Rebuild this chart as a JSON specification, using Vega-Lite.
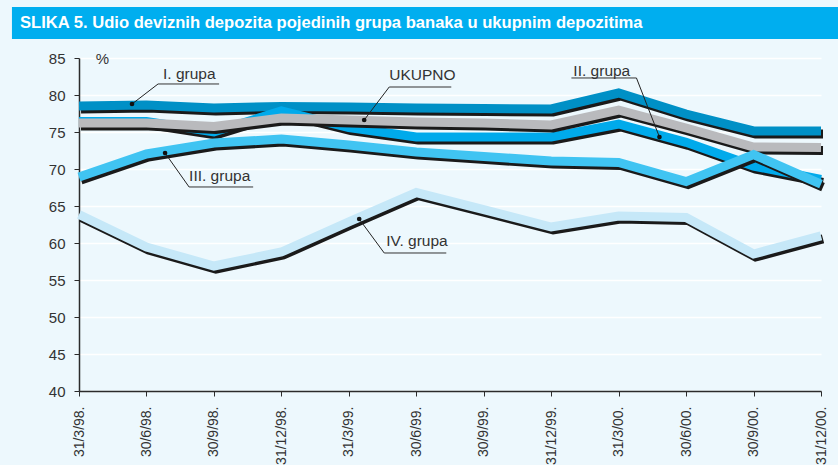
{
  "$schema": "https://vega.github.io/schema/vega-lite/v6.json",
  "background": "#edf8fd",
  "padding": {"left": 11, "top": 7, "right": 0, "bottom": 0},
  "width": 742,
  "height": 333,
  "config": {
    "view": {"stroke": null, "fill": "#edf8fd"},
    "font": "Liberation Sans"
  },
  "datasets": {
    "serije": [
      {"grupa": "I. grupa", "t": 0, "v": 78.5},
      {"grupa": "I. grupa", "t": 1, "v": 78.65},
      {"grupa": "I. grupa", "t": 2, "v": 78.24},
      {"grupa": "I. grupa", "t": 3, "v": 78.45},
      {"grupa": "I. grupa", "t": 4, "v": 78.38},
      {"grupa": "I. grupa", "t": 5, "v": 78.24},
      {"grupa": "I. grupa", "t": 6, "v": 78.18},
      {"grupa": "I. grupa", "t": 7, "v": 78.11},
      {"grupa": "I. grupa", "t": 8, "v": 80.27},
      {"grupa": "I. grupa", "t": 9, "v": 77.43},
      {"grupa": "I. grupa", "t": 10, "v": 75.14},
      {"grupa": "I. grupa", "t": 11, "v": 75.14},
      {"grupa": "II. grupa", "t": 0, "v": 76.42},
      {"grupa": "II. grupa", "t": 1, "v": 76.42},
      {"grupa": "II. grupa", "t": 2, "v": 75.0},
      {"grupa": "II. grupa", "t": 3, "v": 77.84},
      {"grupa": "II. grupa", "t": 4, "v": 75.6},
      {"grupa": "II. grupa", "t": 5, "v": 74.32},
      {"grupa": "II. grupa", "t": 6, "v": 74.32},
      {"grupa": "II. grupa", "t": 7, "v": 74.32},
      {"grupa": "II. grupa", "t": 8, "v": 76.08},
      {"grupa": "II. grupa", "t": 9, "v": 73.6},
      {"grupa": "II. grupa", "t": 10, "v": 70.4},
      {"grupa": "II. grupa", "t": 11, "v": 68.6},
      {"grupa": "UKUPNO", "t": 0, "v": 76.22},
      {"grupa": "UKUPNO", "t": 1, "v": 76.22},
      {"grupa": "UKUPNO", "t": 2, "v": 75.74},
      {"grupa": "UKUPNO", "t": 3, "v": 76.89},
      {"grupa": "UKUPNO", "t": 4, "v": 76.62},
      {"grupa": "UKUPNO", "t": 5, "v": 76.35},
      {"grupa": "UKUPNO", "t": 6, "v": 76.22},
      {"grupa": "UKUPNO", "t": 7, "v": 75.95},
      {"grupa": "UKUPNO", "t": 8, "v": 77.97},
      {"grupa": "UKUPNO", "t": 9, "v": 75.54},
      {"grupa": "UKUPNO", "t": 10, "v": 72.97},
      {"grupa": "UKUPNO", "t": 11, "v": 72.91},
      {"grupa": "III. grupa", "t": 0, "v": 68.92},
      {"grupa": "III. grupa", "t": 1, "v": 72.03},
      {"grupa": "III. grupa", "t": 2, "v": 73.51},
      {"grupa": "III. grupa", "t": 3, "v": 74.05},
      {"grupa": "III. grupa", "t": 4, "v": 73.24},
      {"grupa": "III. grupa", "t": 5, "v": 72.3},
      {"grupa": "III. grupa", "t": 6, "v": 71.69},
      {"grupa": "III. grupa", "t": 7, "v": 71.08},
      {"grupa": "III. grupa", "t": 8, "v": 70.88},
      {"grupa": "III. grupa", "t": 9, "v": 68.3},
      {"grupa": "III. grupa", "t": 10, "v": 71.95},
      {"grupa": "III. grupa", "t": 11, "v": 67.95},
      {"grupa": "IV. grupa", "t": 0, "v": 63.85},
      {"grupa": "IV. grupa", "t": 1, "v": 59.46},
      {"grupa": "IV. grupa", "t": 2, "v": 56.89},
      {"grupa": "IV. grupa", "t": 3, "v": 58.78},
      {"grupa": "IV. grupa", "t": 4, "v": 62.84},
      {"grupa": "IV. grupa", "t": 5, "v": 66.82},
      {"grupa": "IV. grupa", "t": 6, "v": 64.5},
      {"grupa": "IV. grupa", "t": 7, "v": 62.16},
      {"grupa": "IV. grupa", "t": 8, "v": 63.65},
      {"grupa": "IV. grupa", "t": 9, "v": 63.45},
      {"grupa": "IV. grupa", "t": 10, "v": 58.51},
      {"grupa": "IV. grupa", "t": 11, "v": 60.95}
    ],
    "oznake": [
      {"naziv": "I. grupa", "tekstX": 1.246, "tekstY": 82.84, "tockaX": 0.786, "tockaY": 78.78, "lomX": 1.172, "linijaY": 81.49, "linijaOd": 1.172, "linijaDo": 2.077},
      {"naziv": "UKUPNO", "tekstX": 4.599, "tekstY": 82.7, "tockaX": 4.228, "tockaY": 76.62, "lomX": 4.599, "linijaY": 81.08, "linijaOd": 4.599, "linijaDo": 5.519},
      {"naziv": "II. grupa", "tekstX": 7.329, "tekstY": 83.24, "tockaX": 8.605, "tockaY": 74.32, "lomX": 8.264, "linijaY": 82.3, "linijaOd": 7.3, "linijaDo": 8.264},
      {"naziv": "III. grupa", "tekstX": 1.632, "tekstY": 69.05, "tockaX": 1.276, "tockaY": 72.16, "lomX": 1.632, "linijaY": 67.57, "linijaOd": 1.632, "linijaDo": 2.582},
      {"naziv": "IV. grupa", "tekstX": 4.555, "tekstY": 60.27, "tockaX": 4.154, "tockaY": 63.24, "lomX": 4.525, "linijaY": 58.65, "linijaOd": 4.525, "linijaDo": 5.445}
    ],
    "naslov": [
      {"naslov": "SLIKA 5. Udio deviznih depozita pojedinih grupa banaka u ukupnim depozitima", "lijevo": -0.994, "desno": 11.276, "vrh": 91.89, "dno": 87.57, "tekstX": -0.875, "tekstY": 89.73}
    ]
  },
  "encoding": {
    "x": {
      "field": "t", "type": "quantitative", "title": null,
      "scale": {"domain": [0, 11], "nice": false, "zero": false},
      "axis": {
        "tickCount": 11,
        "labelExpr": "['31/3/98.','30/6/98.','30/9/98.','31/12/98.','31/3/99.','30/6/99.','30/9/99.','31/12/99.','31/3/00.','30/6/00.','30/9/00.','31/12/00.'][round(datum.value)]",
        "labelAngle": -90, "labelFontSize": 14, "labelColor": "#333333", "labelPadding": 10,
        "tickSize": 5, "tickColor": "#2b2b2b", "domainColor": "#2b2b2b", "domainWidth": 1.5,
        "grid": false, "labelOverlap": false, "labelFlush": false
      }
    },
    "y": {
      "field": "v", "type": "quantitative",
      "scale": {"domain": [40, 85], "nice": false, "zero": false},
      "axis": {
        "tickCount": 9,
        "title": "%", "titleAngle": 0, "titleX": 23, "titleY": 0, "titleAlign": "center", "titleBaseline": "middle",
        "titleFontSize": 15, "titleFontWeight": "normal", "titleColor": "#333333", "titleFont": "Liberation Sans",
        "labelFontSize": 15, "labelColor": "#333333", "labelPadding": 9,
        "tickSize": 5, "tickColor": "#2b2b2b", "domainColor": "#2b2b2b", "domainWidth": 1.5,
        "grid": true, "gridColor": "#ffffff", "gridWidth": 1.5, "labelOverlap": false, "labelFlush": false
      }
    }
  },
  "layer": [
    {
      "data": {"name": "serije"},
      "transform": [{"filter": "datum.grupa === 'I. grupa'"}],
      "mark": {"type": "line", "color": "#1a1a1a", "strokeWidth": 9, "xOffset": 2, "yOffset": 3, "strokeJoin": "miter"}
    },
    {
      "data": {"name": "serije"},
      "transform": [{"filter": "datum.grupa === 'I. grupa'"}],
      "mark": {"type": "line", "color": "#0090c6", "strokeWidth": 9, "strokeJoin": "miter"}
    },
    {
      "data": {"name": "serije"},
      "transform": [{"filter": "datum.grupa === 'II. grupa'"}],
      "mark": {"type": "line", "color": "#1a1a1a", "strokeWidth": 9, "xOffset": 2, "yOffset": 3, "strokeJoin": "miter"}
    },
    {
      "data": {"name": "serije"},
      "transform": [{"filter": "datum.grupa === 'II. grupa'"}],
      "mark": {"type": "line", "color": "#00aaeb", "strokeWidth": 9, "strokeJoin": "miter"}
    },
    {
      "data": {"name": "serije"},
      "transform": [{"filter": "datum.grupa === 'UKUPNO'"}],
      "mark": {"type": "line", "color": "#1a1a1a", "strokeWidth": 9, "xOffset": 2, "yOffset": 3, "strokeJoin": "miter"}
    },
    {
      "data": {"name": "serije"},
      "transform": [{"filter": "datum.grupa === 'UKUPNO'"}],
      "mark": {"type": "line", "color": "#b9babd", "strokeWidth": 9, "strokeJoin": "miter"}
    },
    {
      "data": {"name": "serije"},
      "transform": [{"filter": "datum.grupa === 'III. grupa'"}],
      "mark": {"type": "line", "color": "#1a1a1a", "strokeWidth": 9, "xOffset": 2, "yOffset": 3, "strokeJoin": "miter"}
    },
    {
      "data": {"name": "serije"},
      "transform": [{"filter": "datum.grupa === 'III. grupa'"}],
      "mark": {"type": "line", "color": "#40c4f2", "strokeWidth": 9, "strokeJoin": "miter"}
    },
    {
      "data": {"name": "serije"},
      "transform": [{"filter": "datum.grupa === 'IV. grupa'"}],
      "mark": {"type": "line", "color": "#1a1a1a", "strokeWidth": 9, "xOffset": 2, "yOffset": 3, "strokeJoin": "miter"}
    },
    {
      "data": {"name": "serije"},
      "transform": [{"filter": "datum.grupa === 'IV. grupa'"}],
      "mark": {"type": "line", "color": "#c6e8f8", "strokeWidth": 9, "strokeJoin": "miter"}
    },
    {
      "data": {"name": "naslov"},
      "mark": {"type": "rect", "color": "#00aeef", "clip": false},
      "encoding": {
        "x": {"field": "lijevo", "type": "quantitative"},
        "x2": {"field": "desno"},
        "y": {"field": "vrh", "type": "quantitative"},
        "y2": {"field": "dno"}
      }
    },
    {
      "data": {"name": "naslov"},
      "mark": {"type": "text", "align": "left", "baseline": "middle", "font": "Liberation Sans", "fontWeight": "bold", "fontSize": 16.6, "color": "#ffffff", "clip": false},
      "encoding": {
        "x": {"field": "tekstX", "type": "quantitative"},
        "y": {"field": "tekstY", "type": "quantitative"},
        "text": {"field": "naslov"}
      }
    },
    {
      "data": {"name": "oznake"},
      "mark": {"type": "rule", "color": "#222222", "strokeWidth": 1},
      "encoding": {
        "x": {"field": "tockaX", "type": "quantitative"},
        "y": {"field": "tockaY", "type": "quantitative"},
        "x2": {"field": "lomX"},
        "y2": {"field": "linijaY"}
      }
    },
    {
      "data": {"name": "oznake"},
      "mark": {"type": "rule", "color": "#333333", "strokeWidth": 1},
      "encoding": {
        "x": {"field": "linijaOd", "type": "quantitative"},
        "x2": {"field": "linijaDo"},
        "y": {"field": "linijaY", "type": "quantitative"}
      }
    },
    {
      "data": {"name": "oznake"},
      "mark": {"type": "point", "filled": true, "color": "#111111", "size": 22, "opacity": 1},
      "encoding": {
        "x": {"field": "tockaX", "type": "quantitative"},
        "y": {"field": "tockaY", "type": "quantitative"}
      }
    },
    {
      "data": {"name": "oznake"},
      "mark": {"type": "text", "align": "left", "baseline": "middle", "fontSize": 15.5, "color": "#333333", "font": "Liberation Sans"},
      "encoding": {
        "x": {"field": "tekstX", "type": "quantitative"},
        "y": {"field": "tekstY", "type": "quantitative"},
        "text": {"field": "naziv"}
      }
    }
  ]
}
